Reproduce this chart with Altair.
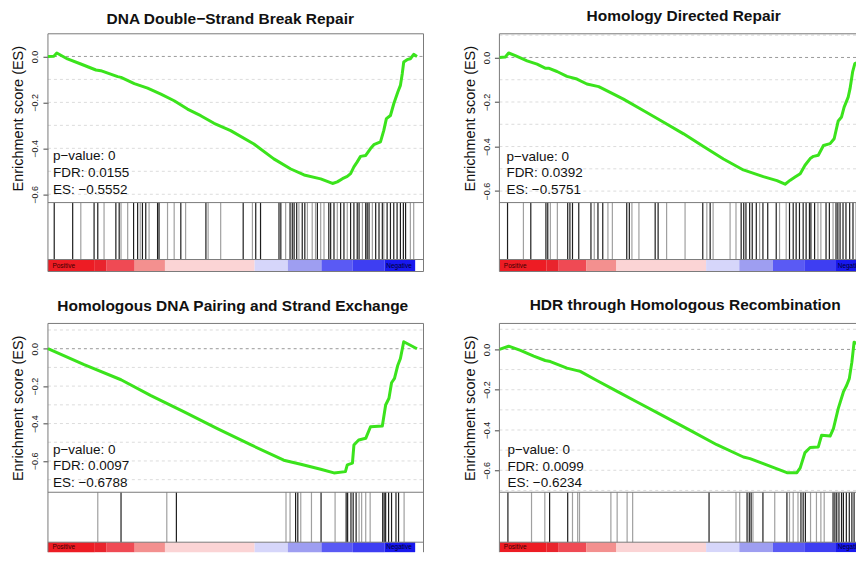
import altair as alt
import numpy as np
import pandas as pd

FONT = "Liberation Sans"
GREEN = "#3be31c"
PX_PER_PCT = 3.695          # pixels per percent of the ranked list
ES_PX = 169                 # height of the running-ES region

# ---------------- data ----------------
TITLES = ["DNA Double−Strand Break Repair", "Homology Directed Repair",
          "Homologous DNA Pairing and Strand Exchange", "HDR through Homologous Recombination"]
PVALUES = ["0", "0", "0", "0"]
FDRS = ["0.0155", "0.0392", "0.0097", "0.0099"]
ESS = ["−0.5552", "−0.5751", "−0.6788", "−0.6234"]

# running enrichment score: position (% of ranked list) and ES
P1_X = [0, 1.6, 2.4, 5.3, 8.9, 13.0, 14.3, 18.9, 19.8, 23.4, 27.0, 30.6, 34.2, 37.8, 41.4, 45.0,
        49.5, 55.8, 61.2, 65.8, 69.4, 73.9, 77.1, 78.4, 79.8, 81.1, 82.0, 82.9, 83.8, 84.7, 86.1,
        87.4, 88.3, 90.1, 91.0, 91.7, 92.8, 93.7, 94.8, 95.5, 96.0, 96.4, 97.3, 98.2, 99.1, 100]
P1_Y = [0, 0.001, 0.015, -0.011, -0.033, -0.059, -0.062, -0.088, -0.091, -0.118, -0.138, -0.164,
        -0.193, -0.229, -0.258, -0.291, -0.323, -0.381, -0.446, -0.490, -0.516, -0.533, -0.553,
        -0.546, -0.532, -0.522, -0.510, -0.481, -0.459, -0.435, -0.431, -0.401, -0.384, -0.372,
        -0.322, -0.271, -0.257, -0.206, -0.155, -0.126, -0.075, -0.024, -0.014, -0.010, 0.009, 0]

P2_X = [0, 1.6, 2.5, 4.3, 7.5, 10.2, 12.4, 13.3, 15.6, 18.3, 21.0, 23.7, 26.9, 30.0, 33.6, 39.1,
        44.5, 49.9, 55.3, 60.7, 66.1, 71.5, 75.2, 77.4, 78.8, 80.1, 81.5, 82.8, 84.2, 85.1, 86.4,
        87.8, 89.6, 90.7, 91.8, 92.7, 93.4, 94.5, 95.0, 95.7, 96.3, 97.7, 98.6, 99.1, 100]
P2_Y = [0, 0.002, 0.020, 0.008, -0.015, -0.030, -0.048, -0.048, -0.063, -0.085, -0.097, -0.119,
        -0.131, -0.157, -0.187, -0.239, -0.291, -0.343, -0.400, -0.456, -0.505, -0.535, -0.553,
        -0.569, -0.551, -0.537, -0.522, -0.484, -0.454, -0.444, -0.439, -0.395, -0.387, -0.365,
        -0.285, -0.267, -0.223, -0.178, -0.140, -0.065, -0.028, -0.016, 0.009, 0.016, 0]

P3_X = [0, 9.8, 19.8, 27.9, 36.9, 45.9, 54.9, 63.9, 68.5, 73.9, 77.5, 80.6, 81.1, 82.5, 82.9,
        84.2, 86.1, 87.4, 90.6, 91.5, 92.4, 93.1, 93.9, 94.8, 95.5, 96.4, 100]
P3_Y = [0, -0.085, -0.166, -0.251, -0.338, -0.427, -0.513, -0.596, -0.618, -0.644, -0.664,
        -0.657, -0.621, -0.612, -0.515, -0.488, -0.479, -0.417, -0.413, -0.301, -0.265, -0.182,
        -0.159, -0.088, -0.052, 0.037, 0]

P4_X = [0, 2.5, 5.7, 9.3, 12.4, 13.8, 18.3, 21.9, 26.4, 31.9, 37.3, 44.5, 51.7, 58.9, 66.1, 67.9,
        71.5, 77.9, 80.6, 81.5, 82.8, 84.2, 86.4, 87.3, 89.6, 90.5, 91.8, 93.2, 94.1, 94.8, 95.5,
        96.1, 98.6, 100]
P4_Y = [0, 0.016, -0.005, -0.033, -0.055, -0.060, -0.093, -0.109, -0.154, -0.208, -0.261, -0.331,
        -0.402, -0.473, -0.534, -0.542, -0.567, -0.612, -0.612, -0.588, -0.512, -0.487, -0.484,
        -0.426, -0.430, -0.393, -0.294, -0.211, -0.178, -0.145, -0.063, 0.036, 0.016, 0]

# gene-set hits (% of ranked list) and their shade (1 dark, 0 light)
P1_HITS = [1.7, 6.7, 8.9, 12.5, 13.5, 15.2, 18.4, 19.3, 19.8, 21.6, 23.2, 24.3, 25.0, 25.6, 26.5,
           27.4, 29.7, 30.1, 32.4, 34.2, 36.0, 37.3, 42.8, 43.4, 46.8, 52.9, 55.4, 56.3, 57.6,
           62.6, 63.1, 64.4, 65.6, 66.2, 66.7, 67.4, 68.0, 68.9, 69.6, 70.3, 71.6, 72.5, 73.0,
           73.9, 74.8, 76.1, 76.6, 77.5, 78.4, 79.3, 80.2, 81.1, 82.0, 82.9, 83.8, 84.3, 85.2,
           86.1, 86.5, 87.0, 87.9, 88.8, 89.7, 90.6, 91.0, 91.9, 92.8, 93.7, 94.6, 95.5, 96.3,
           96.9, 98.2, 99.1]
P1_SHADE = [1, 1, 0, 1, 1, 0, 1, 1, 0, 0, 1, 1, 0, 1, 1, 0, 1, 1, 0, 0, 1, 0, 1, 0, 0, 1, 0, 1, 1, 1,
            1, 0, 1, 1, 1, 1, 0, 1, 1, 0, 0, 0, 1, 0, 0, 1, 1, 1, 0, 1, 1, 0, 1, 1, 1, 1, 0, 1, 1, 1,
            0, 1, 1, 1, 0, 1, 1, 1, 1, 1, 1, 1, 0, 0]

P2_HITS = [2.2, 6.5, 8.5, 12.6, 13.1, 13.8, 15.7, 18.5, 19.1, 19.8, 21.5, 24.8, 25.7, 26.7, 28.0,
           29.4, 30.6, 34.5, 35.2, 35.9, 37.8, 42.2, 43.0, 45.3, 50.3, 55.1, 56.2, 57.1, 57.9,
           62.5, 64.1, 65.5, 66.2, 66.8, 67.8, 68.5, 69.6, 70.5, 71.4, 72.7, 75.0, 75.9, 77.7,
           78.6, 79.6, 80.4, 81.3, 82.3, 83.1, 84.0, 84.4, 85.4, 86.3, 87.1, 88.5, 89.4, 90.4,
           91.2, 91.7, 92.3, 93.1, 93.9, 94.9, 95.8, 96.6, 98.0]
P2_SHADE = [1, 0, 1, 1, 1, 0, 0, 1, 1, 1, 1, 1, 0, 1, 1, 0, 0, 1, 1, 0, 0, 1, 1, 0, 0, 1, 0, 1, 0, 0,
            0, 1, 1, 1, 1, 1, 1, 0, 1, 1, 1, 0, 0, 1, 1, 1, 1, 1, 1, 1, 1, 1, 0, 0, 1, 1, 0, 1, 1, 1,
            1, 1, 1, 1, 0, 0]

P3_HITS = [13.5, 19.8, 32.2, 34.8, 64.5, 65.6, 67.1, 67.7, 68.5, 71.4, 74.0, 77.8, 80.8, 81.2,
           82.1, 82.7, 83.5, 84.3, 85.0, 86.1, 87.3, 90.7, 91.1, 91.5, 92.3, 93.1, 94.3, 95.0, 96.5]
P3_SHADE = [0, 1, 0, 1, 0, 0, 1, 1, 0, 0, 1, 0, 1, 1, 1, 1, 1, 0, 0, 0, 0, 1, 1, 1, 1, 1, 1, 1, 0]

P4_HITS = [2.3, 8.7, 12.3, 13.6, 18.5, 19.8, 21.2, 21.7, 30.2, 31.9, 34.6, 36.1, 56.8, 64.1, 65.1,
           67.1, 67.7, 68.2, 68.7, 71.4, 74.6, 77.9, 78.6, 79.6, 80.9, 81.7, 82.3, 82.9, 84.3,
           85.9, 87.1, 88.0, 90.4, 90.9, 91.4, 92.0, 92.7, 93.2, 94.0, 94.8, 95.5, 96.1]
P4_SHADE = [1, 0, 0, 1, 1, 0, 0, 0, 0, 0, 0, 0, 1, 0, 0, 1, 1, 1, 0, 1, 0, 1, 0, 0, 0, 1, 1, 1, 0, 0,
            0, 0, 1, 1, 1, 1, 1, 1, 1, 1, 1, 1]

# ranked-list metric colour bar (segment edges in % and colours)
CB_EDGES = [0, 12.7, 15.9, 23.5, 31.7, 56.0, 65.0, 74.1, 82.6, 91.2, 99.5]
CB_COLORS = ["#ED1C24", "#E9242D", "#EF4A54", "#F3908F", "#FBD4D5",
             "#D6D6FA", "#9E9EF1", "#5A5AF4", "#3E3EF2", "#1818EE"]

# ---------------- layout (pixels) ----------------
LAYOUT = [
    dict(w=376, h=238, es_top=0.0986, es_bot=-0.6362, bar=57, cb=12, right=True, bottom=True,
         tcx=182.5, tby=-10.3, sx=5, sy=[126.3, 143.7, 160.3]),
    dict(w=357, h=238, es_top=0.1063, es_bot=-0.6516, bar=57, cb=12, right=False, bottom=True,
         tcx=184.5, tby=-13.2, sx=7, sy=[127.0, 143.7, 160.3]),
    dict(w=376, h=229, es_top=0.1350, es_bot=-0.7673, bar=50, cb=10, right=True, bottom=False,
         tcx=185.0, tby=-12.5, sx=5, sy=[130.3, 147.0, 163.7]),
    dict(w=357, h=229, es_top=0.1290, es_bot=-0.7090, bar=50, cb=10, right=False, bottom=False,
         tcx=186.0, tby=-13.5, sx=8, sy=[131.0, 147.5, 163.5]),
]

CURVES = [(P1_X, P1_Y), (P2_X, P2_Y), (P3_X, P3_Y), (P4_X, P4_Y)]
HITS = [(P1_HITS, P1_SHADE), (P2_HITS, P2_SHADE), (P3_HITS, P3_SHADE), (P4_HITS, P4_SHADE)]

YAXIS = alt.Axis(values=[0, -0.2, -0.4, -0.6], format=".1f",
                 title="Enrichment score (ES)", titleFont=FONT, titleFontSize=14.5,
                 titleFontWeight="normal", titleColor="#111", titleAngle=-90,
                 titleX=-25, titleY=84.5, titleAlign="center", titleBaseline="alphabetic",
                 labelFont=FONT, labelFontSize=9, labelColor="#222", labelAngle=-90,
                 labelAlign="center", labelBaseline="alphabetic", labelPadding=5,
                 labelOverlap=False, labelFlush=False,
                 tickSize=5, tickColor="#444", tickWidth=1, domain=False, grid=False)


def panel(i):
    L = LAYOUT[i]
    xs, ys = CURVES[i]
    hits, shades = HITS[i]
    es_top, es_bot = L["es_top"], L["es_bot"]
    pxu = ES_PX / (es_top - es_bot)
    bar_bot = es_bot - L["bar"] / pxu
    cb_bot = bar_bot - L["cb"] / pxu
    xmax = L["w"] / PX_PER_PCT
    clip = not L["right"]

    xsc = alt.Scale(domain=[0, xmax], nice=False, zero=False)
    ysc = alt.Scale(domain=[cb_bot, es_top], nice=False, zero=False)

    def X(f):
        return alt.X(f, type="quantitative", scale=xsc, axis=None)

    def Y(f):
        return alt.Y(f, type="quantitative", scale=ysc, axis=YAXIS)

    # grid lines every 0.1
    gv = [round(v, 1) for v in np.arange(-1.0, 0.25, 0.1)]
    gv = [v for v in gv if es_bot < v < es_top - 0.002 and v != 0]
    grid_df = pd.DataFrame({"v": gv, "x0": 0.0, "x1": xmax})
    grid = alt.Chart(grid_df).mark_rule(color="#dcdcdc", strokeDash=[3, 3], strokeWidth=1).encode(
        x=X("x0"), x2="x1", y=Y("v"))
    zero = alt.Chart(pd.DataFrame({"v": [0.0], "x0": [0.0], "x1": [xmax]})).mark_rule(
        color="#9a9a9a", strokeDash=[3, 3], strokeWidth=1).encode(x=X("x0"), x2="x1", y=Y("v"))

    # colour bar
    cb_df = pd.DataFrame({"a": CB_EDGES[:-1], "b": CB_EDGES[1:], "c": CB_COLORS,
                          "y0": bar_bot, "y1": cb_bot})
    cbar = alt.Chart(cb_df).mark_rect(clip=clip).encode(
        x=X("a"), x2="b", y=Y("y0"), y2="y1", color=alt.Color("c:N", scale=None))

    # barcode
    hit_df = pd.DataFrame({"p": hits, "s": shades, "y0": es_bot, "y1": bar_bot})
    bars = alt.Chart(hit_df).mark_rule(strokeWidth=1.2, clip=clip).encode(
        x=X("p"), y=Y("y0"), y2="y1",
        color=alt.Color("s:O", scale=alt.Scale(domain=[0, 1], range=["#a0a0a0", "#1e1e1e"]),
                        legend=None))

    # frame and separators
    fr = [dict(x=0, x2=xmax, y=es_top, y2=es_top),
          dict(x=0, x2=0, y=cb_bot, y2=es_top),
          dict(x=0, x2=xmax, y=es_bot, y2=es_bot),
          dict(x=0, x2=xmax, y=bar_bot, y2=bar_bot)]
    if L["right"]:
        fr.append(dict(x=xmax, x2=xmax, y=cb_bot, y2=es_top))
    if L["bottom"]:
        fr.append(dict(x=0, x2=xmax, y=cb_bot, y2=cb_bot))
    frame = alt.Chart(pd.DataFrame(fr)).mark_rule(color="#7a7a7a", strokeWidth=1).encode(
        x=X("x"), x2="x2", y=Y("y"), y2="y2")

    # running ES curve
    line_df = pd.DataFrame({"pos": xs, "es": ys, "o": range(len(xs))})
    line = alt.Chart(line_df).mark_line(color=GREEN, strokeWidth=3, clip=clip,
                                         strokeJoin="round").encode(
        x=X("pos"), y=Y("es"), order="o:Q")

    layers = [grid, zero, cbar, bars, frame, line]

    # statistics text
    stats = [f"p−value: {PVALUES[i]}", f"FDR: {FDRS[i]}", f"ES: {ESS[i]}"]
    for s, yy in zip(stats, L["sy"]):
        layers.append(alt.Chart(pd.DataFrame({"t": [s]})).mark_text(
            align="left", baseline="alphabetic", font=FONT, fontSize=13.5, color="#111").encode(
            x=alt.value(L["sx"]), y=alt.value(yy), text="t:N"))

    # Positive / Negative labels on the colour bar
    cb_mid = (bar_bot + cb_bot) / 2
    pn = pd.DataFrame({"p": [1.2], "y": [cb_mid], "t": ["Positive"]})
    layers.append(alt.Chart(pn).mark_text(align="left", baseline="middle", font=FONT,
                                          fontSize=6.5, color="#400000").encode(
        x=X("p"), y=Y("y"), text="t:N"))
    nn = pd.DataFrame({"p": [98.6], "y": [cb_mid], "t": ["Negative"]})
    layers.append(alt.Chart(nn).mark_text(align="right", baseline="middle", font=FONT,
                                          fontSize=6.5, color="#000030", clip=clip).encode(
        x=X("p"), y=Y("y"), text="t:N"))

    # panel title
    layers.append(alt.Chart(pd.DataFrame({"t": [TITLES[i]]})).mark_text(
        align="center", baseline="alphabetic", font=FONT, fontSize=15.5, fontWeight="bold",
        color="#111").encode(x=alt.value(L["tcx"]), y=alt.value(L["tby"]), text="t:N"))

    return alt.layer(*layers).properties(width=L["w"], height=L["h"])


chart = alt.concat(panel(0), panel(1), panel(2), panel(3), columns=2,
                   spacing={"row": 52, "column": 76}, bounds="flush").properties(
    padding={"left": 2, "top": -0.5, "right": 0, "bottom": 0}
).configure(font=FONT).configure_view(stroke="transparent")

chart.save("out.html", embed_options={"renderer": "svg", "actions": False})
